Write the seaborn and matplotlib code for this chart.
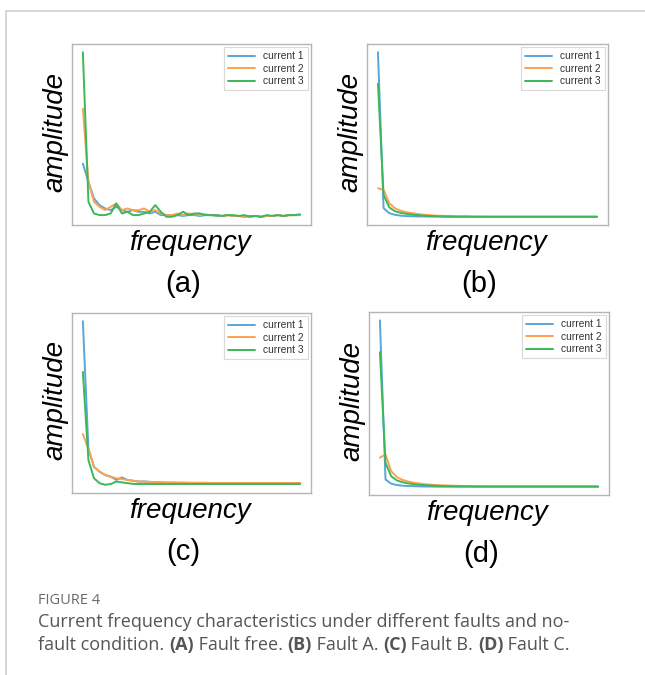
import matplotlib
matplotlib.use("Agg")
import matplotlib.pyplot as plt
import seaborn as sns
import pandas as pd
from matplotlib.lines import Line2D

# amplitude values per panel (normalised, 40 frequency bins)
a_cur1 = [0.33, 0.22, 0.12, 0.08, 0.06, 0.05, 0.07, 0.05, 0.04, 0.05,
          0.04, 0.04, 0.03, 0.04, 0.02, 0.02, 0.02, 0.02, 0.015, 0.02,
          0.02, 0.015, 0.02, 0.02, 0.015, 0.015, 0.02, 0.015, 0.015, 0.01,
          0.015, 0.015, 0.01, 0.015, 0.015, 0.02, 0.015, 0.02, 0.02, 0.02]
a_cur2 = [0.66, 0.22, 0.10, 0.07, 0.05, 0.07, 0.09, 0.05, 0.06, 0.05,
          0.05, 0.06, 0.04, 0.05, 0.03, 0.02, 0.02, 0.03, 0.02, 0.03,
          0.025, 0.02, 0.025, 0.02, 0.02, 0.015, 0.02, 0.015, 0.015, 0.01,
          0.01, 0.015, 0.01, 0.015, 0.015, 0.02, 0.015, 0.02, 0.02, 0.02]
a_cur3 = [1.00, 0.10, 0.03, 0.02, 0.02, 0.03, 0.09, 0.03, 0.04, 0.02,
          0.02, 0.03, 0.04, 0.08, 0.04, 0.01, 0.01, 0.02, 0.04, 0.02,
          0.03, 0.03, 0.02, 0.02, 0.02, 0.015, 0.02, 0.02, 0.015, 0.02,
          0.01, 0.015, 0.01, 0.02, 0.015, 0.02, 0.015, 0.02, 0.02, 0.025]

b_cur1 = [1.00, 0.06, 0.03, 0.02, 0.015, 0.012, 0.011, 0.01, 0.01, 0.009,
          0.009, 0.009, 0.008, 0.008, 0.008, 0.008, 0.008, 0.008, 0.008, 0.008,
          0.008, 0.008, 0.008, 0.008, 0.008, 0.008, 0.008, 0.008, 0.008, 0.008,
          0.008, 0.008, 0.008, 0.008, 0.008, 0.008, 0.008, 0.008, 0.008, 0.008]
b_cur2 = [0.18, 0.17, 0.09, 0.06, 0.045, 0.036, 0.03, 0.025, 0.021, 0.018,
          0.016, 0.014, 0.013, 0.012, 0.011, 0.01, 0.01, 0.009, 0.009, 0.009,
          0.008, 0.008, 0.008, 0.008, 0.008, 0.008, 0.008, 0.008, 0.008, 0.008,
          0.008, 0.008, 0.008, 0.008, 0.008, 0.008, 0.008, 0.008, 0.008, 0.008]
b_cur3 = [0.81, 0.14, 0.065, 0.042, 0.032, 0.026, 0.021, 0.018, 0.015, 0.013,
          0.012, 0.011, 0.01, 0.01, 0.009, 0.009, 0.009, 0.008, 0.008, 0.008,
          0.008, 0.008, 0.008, 0.008, 0.008, 0.008, 0.008, 0.008, 0.008, 0.008,
          0.008, 0.008, 0.008, 0.008, 0.008, 0.008, 0.008, 0.008, 0.008, 0.008]

c_cur1 = [1.00, 0.22, 0.11, 0.08, 0.06, 0.05, 0.03, 0.045, 0.03, 0.025,
          0.02, 0.02, 0.018, 0.016, 0.015, 0.014, 0.014, 0.013, 0.013, 0.012,
          0.012, 0.012, 0.012, 0.011, 0.011, 0.011, 0.011, 0.011, 0.011, 0.011,
          0.011, 0.011, 0.011, 0.011, 0.011, 0.011, 0.011, 0.011, 0.011, 0.011]
c_cur2 = [0.31, 0.22, 0.11, 0.08, 0.06, 0.05, 0.04, 0.035, 0.03, 0.025,
          0.02, 0.02, 0.018, 0.016, 0.015, 0.014, 0.014, 0.013, 0.013, 0.012,
          0.012, 0.012, 0.012, 0.011, 0.011, 0.011, 0.011, 0.011, 0.011, 0.011,
          0.011, 0.011, 0.011, 0.011, 0.011, 0.011, 0.011, 0.011, 0.011, 0.011]
c_cur3 = [0.69, 0.15, 0.04, 0.01, 0.0, 0.005, 0.02, 0.015, 0.01, 0.006,
          0.005, 0.005, 0.005, 0.005, 0.005, 0.005, 0.005, 0.005, 0.005, 0.005,
          0.005, 0.005, 0.005, 0.005, 0.005, 0.005, 0.005, 0.005, 0.005, 0.005,
          0.005, 0.005, 0.005, 0.005, 0.005, 0.005, 0.005, 0.005, 0.005, 0.005]

d_cur1 = [1.00, 0.05, 0.025, 0.017, 0.013, 0.011, 0.01, 0.009, 0.008, 0.008,
          0.007, 0.007, 0.007, 0.007, 0.007, 0.007, 0.007, 0.007, 0.007, 0.007,
          0.007, 0.007, 0.007, 0.007, 0.007, 0.007, 0.007, 0.007, 0.007, 0.007,
          0.007, 0.007, 0.007, 0.007, 0.007, 0.007, 0.007, 0.007, 0.007, 0.007]
d_cur2 = [0.18, 0.20, 0.10, 0.065, 0.048, 0.038, 0.031, 0.026, 0.022, 0.019,
          0.017, 0.015, 0.014, 0.013, 0.012, 0.011, 0.01, 0.01, 0.009, 0.009,
          0.009, 0.008, 0.008, 0.008, 0.008, 0.008, 0.008, 0.008, 0.008, 0.008,
          0.008, 0.008, 0.008, 0.008, 0.008, 0.008, 0.008, 0.008, 0.008, 0.008]
d_cur3 = [0.81, 0.15, 0.07, 0.045, 0.034, 0.027, 0.022, 0.018, 0.016, 0.014,
          0.012, 0.011, 0.01, 0.01, 0.009, 0.009, 0.009, 0.008, 0.008, 0.008,
          0.008, 0.008, 0.008, 0.008, 0.008, 0.008, 0.008, 0.008, 0.008, 0.008,
          0.008, 0.008, 0.008, 0.008, 0.008, 0.008, 0.008, 0.008, 0.008, 0.008]

series_names = ["current 1", "current 2", "current 3"]
panel_tags = ["(a)", "(b)", "(c)", "(d)"]
panels = [[a_cur1, a_cur2, a_cur3], [b_cur1, b_cur2, b_cur3],
          [c_cur1, c_cur2, c_cur3], [d_cur1, d_cur2, d_cur3]]

sns.set_style("white")
plt.rcParams['font.family'] = ['Liberation Sans', 'DejaVu Sans']

W, H = 645, 675
fig = plt.figure(figsize=(W / 100, H / 100), dpi=100)

def fx(px):
    return px / W

def fy(py):
    return 1 - py / H

# axes boxes in pixels: left, top, right, bottom
boxes = [(72, 44, 311, 225), (367, 44, 608, 225),
         (72, 313, 311, 493), (369, 312, 609, 495)]
palette = {"current 1": "#5aa5da", "current 2": "#ffa04d", "current 3": "#3bb85a"}

for k, (vals, box) in enumerate(zip(panels, boxes)):
    l, t, r, b = box
    ax = fig.add_axes([fx(l), fy(b), fx(r - l), (b - t) / H])
    rows = []
    for name, ys in zip(series_names, vals):
        for i, v in enumerate(ys):
            rows.append({"freq": i, "amp": v, "series": name})
    df = pd.DataFrame(rows)
    sns.lineplot(data=df, x="freq", y="amp", hue="series", palette=palette,
                 linewidth=1.4, ax=ax)
    ax.set_xticks([])
    ax.set_yticks([])
    ax.set_xlabel("")
    ax.set_ylabel("")
    for sp in ax.spines.values():
        sp.set_color("#b5b5b5")
        sp.set_linewidth(1.0)
    leg = ax.legend(loc="upper right", fontsize=7.4, handlelength=2.6,
                    borderpad=0.4, labelspacing=0.25, frameon=True,
                    borderaxespad=0.3)
    leg.get_frame().set_edgecolor("#d0d0d0")
    leg.get_frame().set_linewidth(0.8)
    leg.get_frame().set_boxstyle("square", pad=0)
    for txt in leg.get_texts():
        txt.set_color("#333333")

    cx = (l + r) / 2
    cy = (t + b) / 2
    fig.text(fx(l - 17), fy(cy - 3), "amplitude", rotation=90, style="italic",
             fontsize=20, ha="center", va="center", color="black")
    fig.text(fx(cx - 2), fy(b + 18), "frequency", style="italic",
             fontsize=20, ha="center", va="center", color="black")
    fig.text(fx(cx - 8), fy(b + 59), panel_tags[k], fontsize=21,
             ha="center", va="center", color="black")

# page frame lines
fig.add_artist(Line2D([fx(6), 1], [fy(11), fy(11)], color="#cfcfcf", lw=1.2))
fig.add_artist(Line2D([fx(6), fx(6)], [fy(11), 0], color="#cfcfcf", lw=1.2))

# caption
cap_font = ['Open Sans', 'DejaVu Sans']
cap_size = 13
fig.text(fx(38), fy(601), "FIGURE 4", fontsize=10.5, color="#6a6a6a",
         family=cap_font, va="center")
fig.text(fx(38), fy(622), "Current frequency characteristics under different faults and no-",
         fontsize=cap_size, color="#555555", family=cap_font, va="center")

pieces = [("fault condition. ", "normal"), ("(A)", "bold"), (" Fault free. ", "normal"),
          ("(B)", "bold"), (" Fault A. ", "normal"), ("(C)", "bold"),
          (" Fault B. ", "normal"), ("(D)", "bold"), (" Fault C.", "normal")]
renderer = fig.canvas.get_renderer()
x_px = 38
for s, w in pieces:
    t = fig.text(fx(x_px), fy(645), s, fontsize=cap_size, color="#555555",
                 family=cap_font, weight=w, va="center")
    ext = t.get_window_extent(renderer=renderer)
    x_px += ext.width

fig.savefig("out.png", dpi=100)
